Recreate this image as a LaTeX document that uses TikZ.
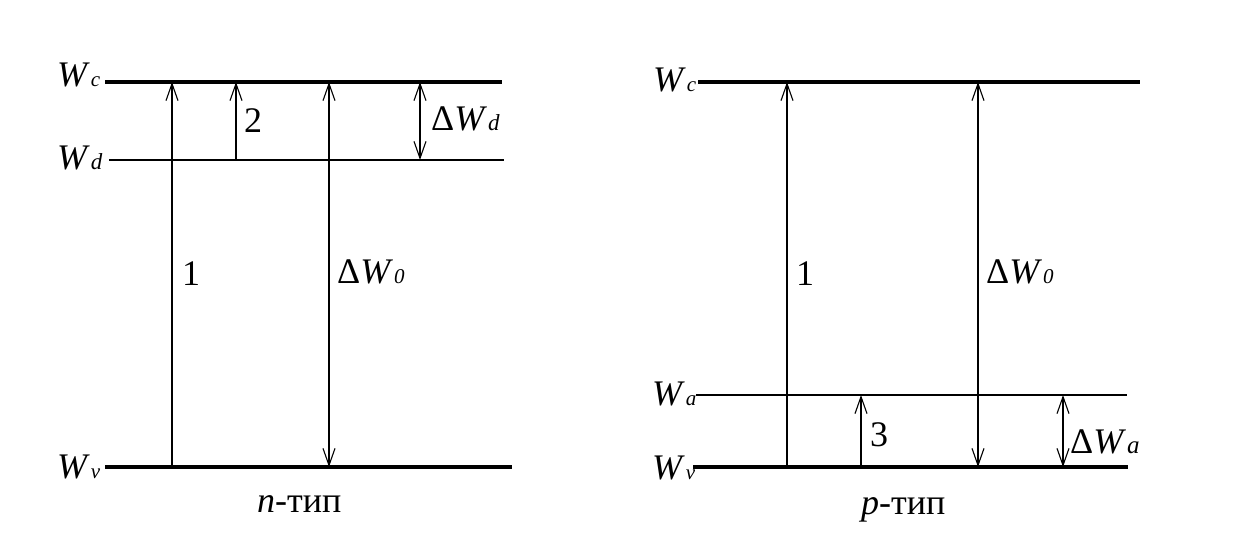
\documentclass[tikz,border=0pt]{standalone}
\usepackage{fontspec}
\setmainfont{Liberation Serif}
\usetikzlibrary{arrows.meta}
\newcommand{\Wsub}[2][21]{\textit{W}\kern1pt{\fontsize{#1}{#1}\selectfont\textit{#2}}}
\newcommand{\dWsub}[2][21]{Δ\textit{W}\kern1pt{\fontsize{#1}{#1}\selectfont\textit{#2}}}
\tikzset{
  lbl/.style={anchor=base west, inner sep=0pt, font=\fontsize{36}{40}\selectfont},
  thickline/.style={line width=3.2pt},
  thinline/.style={line width=1.2pt},
  arr/.style={line width=1.2pt, -{Straight Barb[length=17pt,width=12pt,line width=1.1pt]}},
  darr/.style={line width=1.2pt, {Straight Barb[length=17pt,width=12pt,line width=1.1pt]}-{Straight Barb[length=17pt,width=12pt,line width=1.1pt]}}
}
\begin{document}
\begin{tikzpicture}[x=1pt,y=-1pt]
\useasboundingbox (0,0) rectangle (1244,540);
% ---------- left panel (n-type) ----------
\coordinate (LcA) at (105,82);  \coordinate (LcB) at (502,82);
\coordinate (LdA) at (109,160); \coordinate (LdB) at (504,160);
\coordinate (LvA) at (105,467); \coordinate (LvB) at (512,467);
\draw[thickline] (LcA) -- (LcB);
\draw[thinline] (LdA) -- (LdB);
\draw[thickline] (LvA) -- (LvB);
\node[lbl] (lWc) at (57,87) {\Wsub{c}};
\node[lbl] (lWd) at (57,170) {\Wsub[23]{d}};
\node[lbl] (lWv) at (57,478) {\Wsub{v}};
% arrows
\coordinate (L1v) at (172,467); \coordinate (L1c) at (172,82);
\coordinate (L2d) at (236,160); \coordinate (L2c) at (236,82);
\coordinate (L0v) at (329,467); \coordinate (L0c) at (329,82);
\coordinate (Ldd) at (420,160); \coordinate (Ldc) at (420,82);
\draw[arr] (L1v) -- (L1c);
\draw[arr] (L2d) -- (L2c);
\draw[darr] (L0v) -- (L0c);
\draw[darr] (Ldd) -- (Ldc);
\node[lbl] (l1) at (182,285) {1};
\node[lbl] (l2) at (244,133) {2};
\node[lbl] (lW0) at (337,283) {\dWsub{0}};
\node[lbl] (lWdd) at (431,131) {\dWsub[23]{d}};
\node[lbl] (ntype) at (257,512) {\textit{n}-тип};
% ---------- right panel (p-type) ----------
\coordinate (RcA) at (698,82);  \coordinate (RcB) at (1140,82);
\coordinate (RaA) at (696,395); \coordinate (RaB) at (1127,395);
\coordinate (RvA) at (693,467); \coordinate (RvB) at (1128,467);
\draw[thickline] (RcA) -- (RcB);
\draw[thinline] (RaA) -- (RaB);
\draw[thickline] (RvA) -- (RvB);
\node[lbl] (rWc) at (653,92) {\Wsub{c}};
\node[lbl] (rWa) at (652,405) {\Wsub{a}};
\node[lbl] (rWv) at (652,479) {\Wsub{v}};
\coordinate (R1v) at (787,467); \coordinate (R1c) at (787,82);
\coordinate (R3v) at (861,467); \coordinate (R3a) at (861,395);
\coordinate (R0v) at (978,467); \coordinate (R0c) at (978,82);
\coordinate (Rav) at (1063,467); \coordinate (Raa) at (1063,395);
\draw[arr] (R1v) -- (R1c);
\draw[arr] (R3v) -- (R3a);
\draw[darr] (R0v) -- (R0c);
\draw[darr] (Rav) -- (Raa);
\node[lbl] (r1) at (796,285) {1};
\node[lbl] (r3) at (870,446) {3};
\node[lbl] (rW0) at (986,283) {\dWsub{0}};
\node[lbl] (rWaa) at (1070,453) {\dWsub[25]{a}};
\node[lbl] (ptype) at (861,514) {\textit{p}-тип};
\end{tikzpicture}
\end{document}
